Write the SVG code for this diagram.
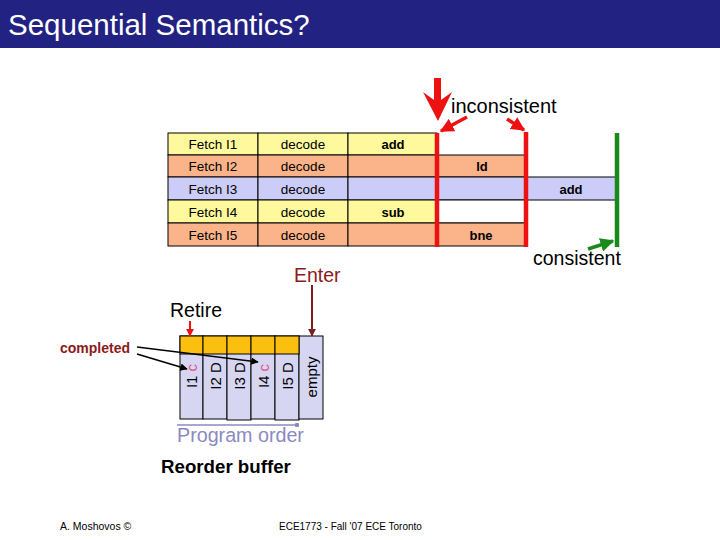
<svg xmlns="http://www.w3.org/2000/svg" width="720" height="540" viewBox="0 0 720 540">
<defs>
<style>
.t{font-family:"Liberation Sans",Arial,sans-serif}
.cell{stroke:#000;stroke-width:1}
.y{fill:#fff99e}
.o{fill:#fbb48a}
.b{fill:#ccccf8}
.w{fill:#fff}
.tt{font-size:13.5px;text-anchor:middle;fill:#000}
.tb{font-size:13px;font-weight:bold;text-anchor:middle;fill:#000}
.rob{fill:#d6d6f2;stroke:#000;stroke-width:1}
.robtop{fill:#fbbf10;stroke:#000;stroke-width:1}
.vt{font-size:15px;text-anchor:middle;fill:#000}
.pc{fill:#e0508a}
</style>
<marker id="ar" viewBox="0 0 10 10" refX="9" refY="5" markerWidth="4" markerHeight="4" orient="auto"><path d="M0,0 L10,5 L0,10 z" fill="#ee1111"/></marker>
<marker id="ag" viewBox="0 0 10 10" refX="9" refY="5" markerWidth="4" markerHeight="4" orient="auto"><path d="M0,0 L10,5 L0,10 z" fill="#1a8a1a"/></marker>
<marker id="ak" viewBox="0 0 10 10" refX="9" refY="5" markerWidth="5" markerHeight="5" orient="auto"><path d="M0,0 L10,5 L0,10 z" fill="#000"/></marker>
<marker id="ad" viewBox="0 0 10 10" refX="9" refY="5" markerWidth="4" markerHeight="4" orient="auto"><path d="M0,0 L10,5 L0,10 z" fill="#7a1f1f"/></marker>
<marker id="dot" viewBox="0 0 10 10" refX="5" refY="5" markerWidth="3" markerHeight="3"><circle cx="5" cy="5" r="5" fill="#8a8abf"/></marker>
</defs>
<rect width="720" height="540" fill="#fff"/>
<g id="title">
<rect x="0" y="0" width="720" height="48" fill="#222282"/>
<text class="t" x="8" y="35" font-size="29.5" fill="#fff">Sequential Semantics?</text>
</g>
<g id="pipeline">
<rect class="cell y" x="168" y="133" width="90" height="22"/>
<rect class="cell y" x="258" y="133" width="90" height="22"/>
<rect class="cell y" x="348" y="133" width="89" height="22"/>
<rect class="cell o" x="168" y="155" width="90" height="22"/>
<rect class="cell o" x="258" y="155" width="90" height="22"/>
<rect class="cell o" x="348" y="155" width="89" height="22"/>
<rect class="cell o" x="437" y="155" width="89" height="22"/>
<rect class="cell b" x="168" y="177" width="90" height="23"/>
<rect class="cell b" x="258" y="177" width="90" height="23"/>
<rect class="cell b" x="348" y="177" width="89" height="23"/>
<rect class="cell b" x="437" y="177" width="89" height="23"/>
<rect class="cell b" x="526" y="177" width="90" height="23"/>
<rect class="cell y" x="168" y="200" width="90" height="23"/>
<rect class="cell y" x="258" y="200" width="90" height="23"/>
<rect class="cell y" x="348" y="200" width="89" height="23"/>
<rect class="cell w" x="437" y="200" width="89" height="23"/>
<rect class="cell o" x="168" y="223" width="90" height="23"/>
<rect class="cell o" x="258" y="223" width="90" height="23"/>
<rect class="cell o" x="348" y="223" width="89" height="23"/>
<rect class="cell o" x="437" y="223" width="89" height="23"/>
<g class="t">
<text class="tt" x="213" y="149">Fetch I1</text><text class="tt" x="303" y="149">decode</text><text class="tb" x="393" y="149">add</text>
<text class="tt" x="213" y="171">Fetch I2</text><text class="tt" x="303" y="171">decode</text><text class="tb" x="482" y="171">ld</text>
<text class="tt" x="213" y="194">Fetch I3</text><text class="tt" x="303" y="194">decode</text><text class="tb" x="571" y="194">add</text>
<text class="tt" x="213" y="217">Fetch I4</text><text class="tt" x="303" y="217">decode</text><text class="tb" x="393" y="217">sub</text>
<text class="tt" x="213" y="240">Fetch I5</text><text class="tt" x="303" y="240">decode</text><text class="tb" x="481" y="240">bne</text>
</g>
</g>
<g id="rob">
<rect class="rob" x="180" y="336" width="23" height="83"/>
<rect class="rob" x="203" y="336" width="24" height="83"/>
<rect class="rob" x="227" y="336" width="24" height="84"/>
<rect class="rob" x="251" y="336" width="24" height="83"/>
<rect class="rob" x="275" y="336" width="24" height="84"/>
<rect class="rob" x="299" y="336" width="24" height="83"/>
<rect class="robtop" x="180" y="336" width="23" height="18"/>
<rect class="robtop" x="203" y="336" width="24" height="18"/>
<rect class="robtop" x="227" y="336" width="24" height="18"/>
<rect class="robtop" x="251" y="336" width="24" height="18"/>
<rect class="robtop" x="275" y="336" width="24" height="18"/>
<g class="t">
<text class="vt" transform="translate(197,376) rotate(-90)">I1 <tspan class="pc">c</tspan></text>
<text class="vt" transform="translate(220.5,376) rotate(-90)">I2 D</text>
<text class="vt" transform="translate(244.5,376) rotate(-90)">I3 D</text>
<text class="vt" transform="translate(268.5,376) rotate(-90)">I4 <tspan class="pc">c</tspan></text>
<text class="vt" transform="translate(292.5,376) rotate(-90)">I5 D</text>
<text class="vt" transform="translate(316.5,377) rotate(-90)">empty</text>
</g>
</g>
<g id="connectors">
<line x1="437" y1="133" x2="437" y2="247" stroke="#ee1111" stroke-width="4.5"/>
<line x1="526" y1="132" x2="526" y2="247" stroke="#ee1111" stroke-width="4.5"/>
<line x1="617" y1="133" x2="617" y2="247" stroke="#1a8a1a" stroke-width="4.5"/>
<polygon points="434,78 441,78 441,100 452,92 438,121 423,92 434,100" fill="#ee1111"/>
<line x1="467" y1="117" x2="441" y2="131" stroke="#ee1111" stroke-width="3.5" marker-end="url(#ar)"/>
<line x1="507" y1="119" x2="524" y2="130" stroke="#ee1111" stroke-width="3.5" marker-end="url(#ar)"/>
<line x1="588" y1="249" x2="613" y2="241" stroke="#1a8a1a" stroke-width="3.5" marker-end="url(#ag)"/>
<line x1="312" y1="285" x2="312" y2="336" stroke="#7a1f1f" stroke-width="2" marker-end="url(#ad)"/>
<line x1="190" y1="321" x2="190" y2="336" stroke="#ee1111" stroke-width="2" marker-end="url(#ar)"/>
<line x1="137" y1="347" x2="258" y2="362" stroke="#000" stroke-width="1.5" marker-end="url(#ak)"/>
<line x1="137" y1="354" x2="187" y2="369" stroke="#000" stroke-width="1.5" marker-end="url(#ak)"/>
<line x1="177" y1="425" x2="297" y2="425" stroke="#8a8abf" stroke-width="1.5" marker-end="url(#dot)"/>
</g>
<g id="labels" class="t">
<text x="451" y="113" font-size="20" fill="#000">inconsistent</text>
<text x="533" y="265" font-size="19.5" fill="#000">consistent</text>
<text x="294" y="282" font-size="19.5" fill="#8b1a1a">Enter</text>
<text x="170" y="317" font-size="19.5" fill="#000">Retire</text>
<text x="60" y="353" font-size="14" font-weight="bold" fill="#8b1a1a">completed</text>
<text x="177" y="442" font-size="19.7" fill="#8a8abf">Program order</text>
<text x="161" y="473" font-size="18.7" font-weight="bold" fill="#000">Reorder buffer</text>
<text x="60" y="530" font-size="10.5" fill="#000">A. Moshovos ©</text>
<text x="279" y="530" font-size="10" fill="#000">ECE1773 - Fall '07 ECE Toronto</text>
</g>
</svg>
